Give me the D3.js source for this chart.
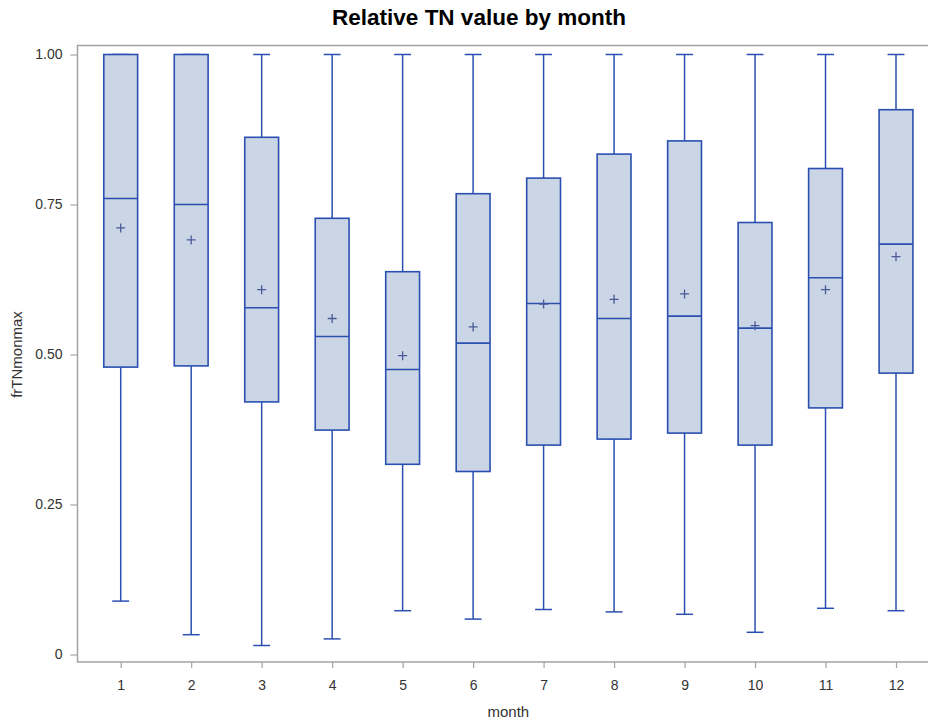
<!DOCTYPE html>
<html>
<head>
<meta charset="utf-8">
<script src="https://cdn.jsdelivr.net/npm/d3@7"></script>
<style>
  html, body { margin: 0; padding: 0; background: #fff; }
  svg { display: block; }
  text { font-family: Arial, "Liberation Sans", sans-serif; }
</style>
</head>
<body>
<svg id="chart" width="928" height="723"></svg>
<script>
// ---- data ----
const months  = [1, 2, 3, 4, 5, 6, 7, 8, 9, 10, 11, 12];
const minVals = [0.089, 0.033, 0.015, 0.026, 0.073, 0.059, 0.075, 0.071, 0.067, 0.037, 0.077, 0.073];
const q1Vals  = [0.479, 0.481, 0.421, 0.374, 0.317, 0.305, 0.349, 0.359, 0.369, 0.349, 0.411, 0.469];
const medVals = [0.760, 0.750, 0.578, 0.530, 0.475, 0.519, 0.585, 0.560, 0.564, 0.544, 0.628, 0.684];
const q3Vals  = [1.000, 1.000, 0.862, 0.727, 0.638, 0.768, 0.794, 0.834, 0.856, 0.720, 0.810, 0.908];
const maxVals = [1.000, 1.000, 1.000, 1.000, 1.000, 1.000, 1.000, 1.000, 1.000, 1.000, 1.000, 1.000];
const meanVals= [0.711, 0.691, 0.608, 0.560, 0.498, 0.546, 0.584, 0.592, 0.601, 0.548, 0.608, 0.663];
const yTicks  = [0, 0.25, 0.5, 0.75, 1.0];
const yTickLabels = ["0", "0.25", "0.50", "0.75", "1.00"];

const rows = months.map((m, i) => ({
  month: m, min: minVals[i], q1: q1Vals[i], med: medVals[i],
  q3: q3Vals[i], max: maxVals[i], mean: meanVals[i]
}));

// ---- layout ----
const frame = { left: 77.5, right: 940, top: 45.5, bottom: 662 };
const svg = d3.select("#chart");

const x = d3.scalePoint().domain(months).range([120.7, 896]);
const y = d3.scaleLinear().domain([0, 1]).range([654.5, 54.5]);
const step = x.step();
const boxW = step * 0.48;
const capW = boxW * 0.5;

const lineColor = "#2a4fb0";
const fillColor = "#cad5e5";
const meanColor = "#4a5a98";
const axisColor = "#a3a3a3";
const textColor = "#333333";

// frame (no right edge visible in reference)
svg.append("path")
  .attr("d", `M${frame.right},${frame.top}H${frame.left}V${frame.bottom}H${frame.right}`)
  .attr("fill", "none").attr("stroke", axisColor).attr("stroke-width", 1.5);

// y axis
const yAxis = d3.axisLeft(y).tickValues(yTicks)
  .tickFormat((d, i) => yTickLabels[i]).tickSize(7).tickPadding(8);
const gy = svg.append("g").attr("transform", `translate(${frame.left},0)`).call(yAxis);
gy.select(".domain").remove();
gy.selectAll(".tick line").attr("stroke", axisColor).attr("stroke-width", 1.2);
gy.selectAll(".tick text").attr("fill", textColor).style("font-size", "14px");

// x axis
const xAxis = d3.axisBottom(x).tickSize(6).tickPadding(12);
const gx = svg.append("g").attr("transform", `translate(0,${frame.bottom})`).call(xAxis);
gx.select(".domain").remove();
gx.selectAll(".tick line").attr("stroke", axisColor).attr("stroke-width", 1.2);
gx.selectAll(".tick text").attr("fill", textColor).style("font-size", "14px");

// boxes
const g = svg.append("g");
const b = g.selectAll("g.box").data(rows).join("g").attr("class", "box");

// whiskers
b.append("line")
  .attr("x1", d => x(d.month)).attr("x2", d => x(d.month))
  .attr("y1", d => y(d.q1)).attr("y2", d => y(d.min))
  .attr("stroke", lineColor).attr("stroke-width", 1.5);
b.append("line")
  .attr("x1", d => x(d.month)).attr("x2", d => x(d.month))
  .attr("y1", d => y(d.q3)).attr("y2", d => y(d.max))
  .attr("stroke", lineColor).attr("stroke-width", 1.5);
// caps
b.append("line")
  .attr("x1", d => x(d.month) - capW / 2).attr("x2", d => x(d.month) + capW / 2)
  .attr("y1", d => y(d.min)).attr("y2", d => y(d.min))
  .attr("stroke", lineColor).attr("stroke-width", 1.5);
b.append("line")
  .attr("x1", d => x(d.month) - capW / 2).attr("x2", d => x(d.month) + capW / 2)
  .attr("y1", d => y(d.max)).attr("y2", d => y(d.max))
  .attr("stroke", lineColor).attr("stroke-width", 1.5);
// box
b.append("rect")
  .attr("x", d => x(d.month) - boxW / 2).attr("width", boxW)
  .attr("y", d => y(d.q3)).attr("height", d => y(d.q1) - y(d.q3))
  .attr("fill", fillColor).attr("stroke", lineColor).attr("stroke-width", 1.6);
// median
b.append("line")
  .attr("x1", d => x(d.month) - boxW / 2).attr("x2", d => x(d.month) + boxW / 2)
  .attr("y1", d => y(d.med)).attr("y2", d => y(d.med))
  .attr("stroke", lineColor).attr("stroke-width", 1.6);
// mean marker "+"
b.append("path")
  .attr("d", d => {
    const cx = x(d.month), cy = y(d.mean), r = 4.5;
    return `M${cx - r},${cy}H${cx + r}M${cx},${cy - r}V${cy + r}`;
  })
  .attr("stroke", meanColor).attr("stroke-width", 1.3).attr("fill", "none");

// title
svg.append("text")
  .attr("x", 479).attr("y", 25)
  .attr("text-anchor", "middle")
  .attr("fill", "#000")
  .style("font-size", "22.5px").style("font-weight", "bold")
  .text("Relative TN value by month");

// axis labels
svg.append("text")
  .attr("x", (x(6) + x(7)) / 2).attr("y", 717)
  .attr("text-anchor", "middle").attr("fill", textColor)
  .style("font-size", "15px")
  .text("month");

svg.append("text")
  .attr("transform", `translate(22,${(y(0) + y(1)) / 2}) rotate(-90)`)
  .attr("text-anchor", "middle").attr("fill", textColor)
  .style("font-size", "15px")
  .text("frTNmonmax");
</script>
</body>
</html>
